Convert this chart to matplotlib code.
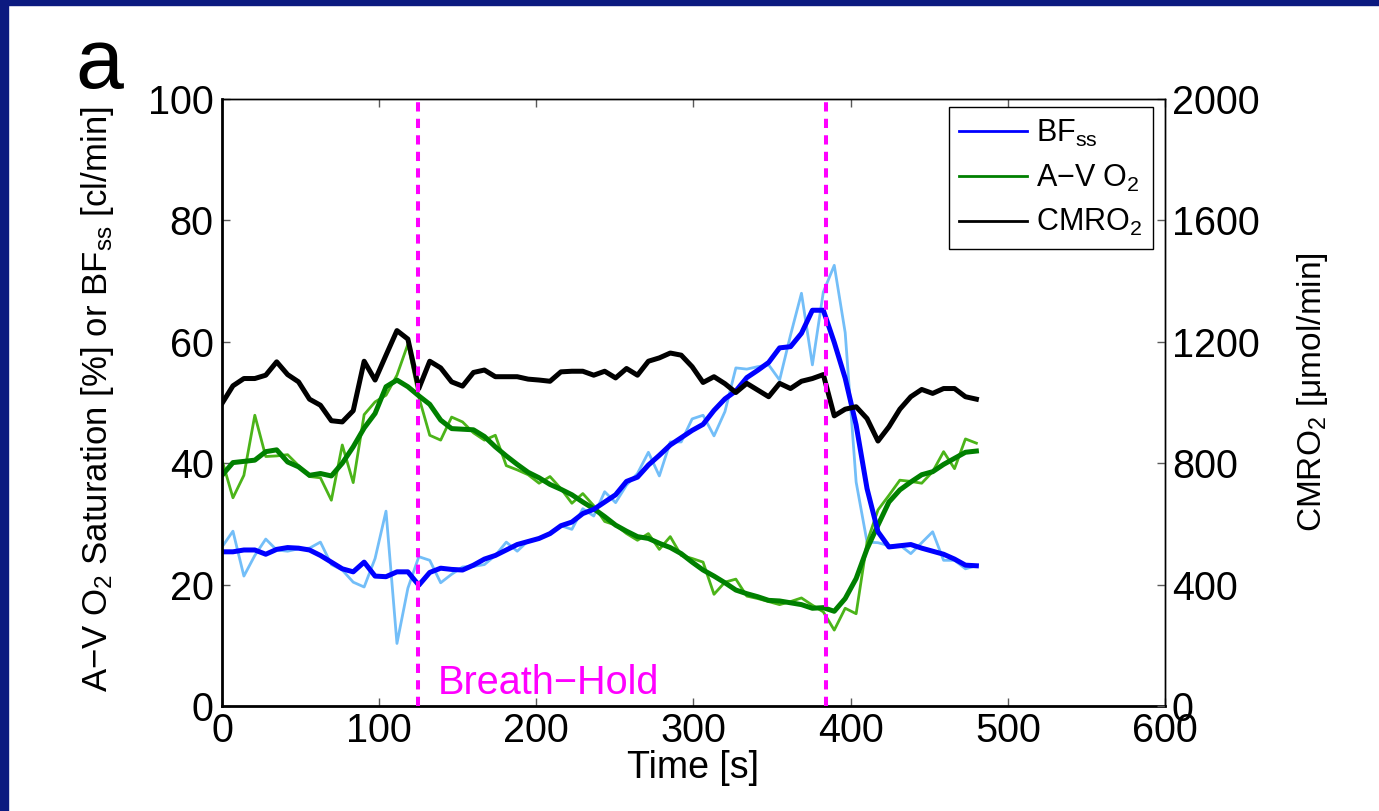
import numpy as np
import matplotlib
matplotlib.use("Agg")
import matplotlib.pyplot as plt
from matplotlib.lines import Line2D
from matplotlib.patches import Rectangle

plt.rcParams['font.family'] = ['Liberation Sans', 'DejaVu Sans']
plt.rcParams['mathtext.fontset'] = 'custom'
plt.rcParams['mathtext.rm'] = 'Liberation Sans'
plt.rcParams['mathtext.it'] = 'Liberation Sans:italic'
plt.rcParams['mathtext.bf'] = 'Liberation Sans:bold'

# time grid [s], 70 samples from 0 to 480 s
time_s = np.linspace(0, 480, 70)

# blood flow (raw and smoothed) [cl/min]
bf_raw = [26.2, 28.8, 21.4, 24.8, 27.5, 25.7, 25.5, 25.9, 26.0, 27.0,
          23.3, 22.4, 20.4, 19.6, 24.3, 32.1, 10.3, 19.4, 24.6, 24.0,
          20.3, 21.7, 22.9, 23.0, 23.3, 24.8, 27.0, 25.5, 27.2, 27.6,
          28.4, 29.7, 29.1, 32.5, 31.3, 35.3, 33.5, 36.4, 38.3, 41.8,
          37.9, 43.5, 43.5, 47.3, 47.9, 44.5, 48.5, 55.7, 55.5, 55.9,
          56.2, 53.7, 61.1, 68.0, 56.2, 68.2, 72.6, 61.5, 36.9, 27.0,
          26.9, 26.4, 26.5, 25.1, 26.9, 28.7, 24.0, 24.0, 22.6, 23.1]
bf_ss = [25.4, 25.4, 25.7, 25.7, 25.0, 25.8, 26.1, 26.0, 25.7, 24.8,
         23.7, 22.6, 22.1, 23.7, 21.4, 21.3, 22.1, 22.1, 19.9, 22.0,
         22.7, 22.5, 22.4, 23.2, 24.2, 24.8, 25.7, 26.6, 27.1, 27.6,
         28.4, 29.7, 30.3, 31.7, 32.4, 33.6, 34.8, 37.0, 37.7, 39.7,
         41.3, 43.0, 44.2, 45.4, 46.4, 48.7, 50.6, 51.9, 54.1, 55.3,
         56.6, 59.0, 59.2, 61.4, 65.2, 65.2, 59.9, 54.0, 46.3, 35.8,
         28.7, 26.2, 26.4, 26.6, 26.0, 25.5, 25.0, 24.2, 23.2, 23.1]

# A-V O2 saturation (raw and smoothed) [%]
av_raw = [40.5, 34.3, 38.0, 47.9, 41.1, 41.2, 41.4, 39.6, 37.8, 37.6,
          33.9, 43.0, 36.8, 48.0, 50.1, 51.2, 54.5, 59.6, 50.9, 44.6,
          43.8, 47.6, 46.8, 45.0, 43.8, 44.6, 39.6, 38.9, 38.1, 36.7,
          37.8, 35.8, 33.4, 35.0, 33.0, 30.4, 29.8, 28.4, 27.3, 28.4,
          25.8, 27.9, 24.8, 24.3, 23.7, 18.4, 20.4, 20.9, 18.1, 17.7,
          17.2, 16.7, 17.2, 17.8, 16.6, 15.5, 12.5, 16.1, 15.2, 27.0,
          32.3, 34.7, 37.2, 37.0, 36.7, 38.6, 41.9, 39.1, 44.0, 43.3]
av_smooth = [38.0, 40.1, 40.3, 40.5, 41.9, 42.2, 40.2, 39.4, 38.0, 38.3,
             37.9, 40.0, 42.7, 45.8, 48.2, 52.6, 53.7, 52.6, 51.1, 49.7,
             47.1, 45.7, 45.6, 45.5, 44.4, 42.7, 41.2, 39.8, 38.5, 37.6,
             36.5, 35.7, 34.8, 33.6, 32.5, 31.2, 29.8, 28.8, 27.9, 27.6,
             26.8, 26.1, 25.1, 23.7, 22.4, 21.4, 20.3, 19.1, 18.5, 18.0,
             17.4, 17.3, 17.0, 16.7, 16.1, 16.2, 15.6, 17.7, 21.0, 25.9,
             29.8, 33.6, 35.6, 36.9, 38.1, 38.6, 39.8, 40.8, 41.8, 42.0]

# CMRO2 [umol/min]
cmro2 = [997, 1055, 1079, 1079, 1090, 1134, 1092, 1068, 1011, 991,
         940, 936, 973, 1136, 1074, 1156, 1237, 1209, 1046, 1136,
         1114, 1068, 1054, 1099, 1107, 1085, 1085, 1085, 1077, 1074,
         1070, 1101, 1103, 1103, 1090, 1103, 1081, 1112, 1090, 1136,
         1147, 1163, 1156, 1118, 1066, 1085, 1062, 1033, 1063, 1041,
         1019, 1063, 1046, 1070, 1079, 1092, 956, 978, 986, 947,
         873, 920, 978, 1019, 1043, 1030, 1046, 1046, 1019, 1011]

# breath-hold start / end [s]
breath_hold = [125, 384]

fig = plt.figure(figsize=(13.79, 8.11), dpi=100)
ax = fig.add_axes([0.161, 0.1295, 0.6838, 0.7484])
ax2 = ax.twinx()

# raw traces first, smoothed on top
ax.plot(time_s, bf_raw, color="#73BEF8", lw=2.0)
ax.plot(time_s, av_raw, color="#4BB419", lw=2.0)
ax.plot(time_s, av_smooth, color="#008000", lw=3.6)
ax.plot(time_s, bf_ss, color="#0000FF", lw=3.6)
ax2.plot(time_s, cmro2, color="black", lw=3.6)

for t in breath_hold:
    ax2.axvline(t, color="#FF00FF", lw=2.9, ls=(0, (2.3, 1.8)), zorder=5)

ax.text(137, 2, "Breath\u2212Hold", color="#FF00FF", fontsize=28.5, va="baseline")

ax.set_xlim(0, 600)
ax.set_ylim(0, 100)
ax2.set_ylim(0, 2000)
ax.set_xticks(np.arange(0, 601, 100))
ax.set_yticks(np.arange(0, 101, 20))
ax2.set_yticks(np.arange(0, 2001, 400))

ax.tick_params(axis="both", direction="in", length=6, width=1, color="0.35",
               labelsize=28.5, top=True)
ax.tick_params(axis="x", pad=4)
ax.tick_params(axis="y", pad=6)
ax2.tick_params(axis="y", direction="in", length=6, width=1, color="0.35",
                labelsize=28.5, pad=5)

for s in ["left", "bottom"]:
    ax.spines[s].set_linewidth(2.0)
for s in ["top", "right"]:
    ax.spines[s].set_linewidth(1.0)
    ax2.spines[s].set_linewidth(1.0)
ax2.spines["left"].set_visible(False)
ax2.spines["bottom"].set_visible(False)

ax.set_xlabel("Time [s]", fontsize=27)
ax.xaxis.set_label_coords(0.5, -0.072)
ax.set_ylabel("A\u2212V O$_2$ Saturation [%] or BF$_{\\mathrm{ss}}$ [cl/min]", fontsize=25)
ax.yaxis.set_label_coords(-0.112, 0.505)
ax2.set_ylabel("CMRO$_2$ [\u03bcmol/min]", fontsize=24)
ax2.yaxis.set_label_coords(1.138, 0.517)

handles = [Line2D([], [], color="#0000FF", lw=2),
           Line2D([], [], color="#008000", lw=2),
           Line2D([], [], color="black", lw=2)]
labels = ["BF$_{\\mathrm{ss}}$", "A\u2212V O$_2$", "CMRO$_2$"]
leg = ax2.legend(handles, labels, loc="upper right", bbox_to_anchor=(0.987, 0.987),
                 borderaxespad=0, fontsize=22, handlelength=2.2, handletextpad=0.3,
                 labelspacing=0.45, borderpad=0.35, fancybox=False, framealpha=1,
                 edgecolor="black")
leg.get_frame().set_linewidth(1.0)

fig.text(75 / 1379, 1 - 88 / 811, "a", fontsize=62, va="baseline")

# dark blue slide border on left and top
fig.patches.append(Rectangle((0, 0), 8 / 1379, 1, transform=fig.transFigure,
                             color="#0c1a80", zorder=10))
fig.patches.append(Rectangle((0, 1 - 5 / 811), 1, 5 / 811, transform=fig.transFigure,
                             color="#0c1a80", zorder=10))

fig.savefig("out.png", dpi=100)
